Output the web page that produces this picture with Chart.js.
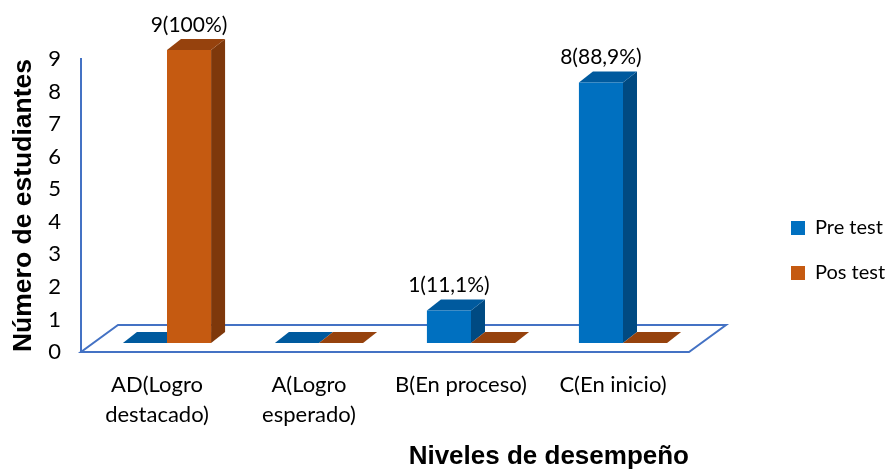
<!DOCTYPE html>
<html>
<head>
<meta charset="utf-8">
<script src="https://cdn.jsdelivr.net/npm/chart.js@4.4.0/dist/chart.umd.min.js"></script>
<style>
  html, body { margin: 0; padding: 0; background: #fff; }
  #wrap { width: 887px; height: 470px; }
</style>
</head>
<body>
<div id="wrap"><canvas id="chart"></canvas></div>
<script>
const categories = [['AD(Logro', 'destacado)'], ['A(Logro', 'esperado)'], 'B(En proceso)', 'C(En inicio)'];
const preTest = [0, 0, 1, 8];
const posTest = [9, 0, 0, 0];
const totalStudents = 9;
const yMin = 0;
const yMax = 9;
const yStep = 1;

// colours of the three visible faces of each 3D bar
const faces = {
    'Pre test': { front: '#0070C0', side: '#004A82', top: '#005A9E' },
    'Pos test': { front: '#C55A11', side: '#7E380B', top: '#96420D' }
};
const barShift   = { x: 10, y: -9 };   // bars stand a bit behind the axis plane
const barDepth   = { x: 14, y: -11 };
const floorDepth = { x: 37, y: -27 };
const fontText  = 'Lato';
const fontTitle = 'Liberation Sans';

function pctLabel(v) {
    const p = v / totalStudents * 100;
    const s = Number.isInteger(p) ? String(p) : p.toFixed(1).replace('.', ',');
    return v + '(' + s + '%)';
}

const bars3d = {
    id: 'bars3d',
    beforeDatasetsDraw(chart) {
        const { ctx, chartArea: a } = chart;
        // floor
        ctx.save();
        ctx.strokeStyle = '#4472C4';
        ctx.lineWidth = 2;
        ctx.beginPath();
        ctx.moveTo(a.left, a.bottom);
        ctx.lineTo(a.right, a.bottom);
        ctx.lineTo(a.right + floorDepth.x, a.bottom + floorDepth.y);
        ctx.lineTo(a.left + floorDepth.x, a.bottom + floorDepth.y);
        ctx.closePath();
        ctx.stroke();
        ctx.restore();

        ctx.save();
        ctx.translate(barShift.x, barShift.y);
        chart.data.datasets.forEach((ds, i) => {
            const c = faces[ds.label];
            chart.getDatasetMeta(i).data.forEach(bar => {
                const { x, y, base, width } = bar.getProps(['x', 'y', 'base', 'width'], true);
                const x0 = x - width / 2, x1 = x + width / 2;
                // side
                ctx.fillStyle = c.side;
                ctx.beginPath();
                ctx.moveTo(x1, y);
                ctx.lineTo(x1 + barDepth.x, y + barDepth.y);
                ctx.lineTo(x1 + barDepth.x, base + barDepth.y);
                ctx.lineTo(x1, base);
                ctx.closePath();
                ctx.fill();
                // top
                ctx.fillStyle = c.top;
                ctx.beginPath();
                ctx.moveTo(x0, y);
                ctx.lineTo(x1, y);
                ctx.lineTo(x1 + barDepth.x, y + barDepth.y);
                ctx.lineTo(x0 + barDepth.x, y + barDepth.y);
                ctx.closePath();
                ctx.fill();
            });
        });
    },
    afterDatasetsDraw(chart) {
        const { ctx } = chart;
        ctx.fillStyle = '#000';
        ctx.font = '21px "' + fontText + '"';
        ctx.textAlign = 'center';
        ctx.textBaseline = 'middle';
        chart.data.datasets.forEach((ds, i) => {
            chart.getDatasetMeta(i).data.forEach((bar, j) => {
                const v = ds.data[j];
                if (!v) return;
                ctx.fillText(pctLabel(v), bar.x, bar.y + barDepth.y - 14);
            });
        });
        ctx.restore();
    }
};

new Chart(document.getElementById('chart'), {
    type: 'bar',
    data: {
        labels: categories,
        datasets: [
            { label: 'Pre test', data: preTest, backgroundColor: faces['Pre test'].front, borderWidth: 0, clip: false },
            { label: 'Pos test', data: posTest, backgroundColor: faces['Pos test'].front, borderWidth: 0, clip: false }
        ]
    },
    options: {
        responsive: true,
        maintainAspectRatio: false,
        animation: false,
        categoryPercentage: 0.58,
        barPercentage: 1.0,
        layout: { padding: { top: 31, left: 0, right: 0, bottom: 0 } },
        plugins: {
            legend: {
                position: 'right',
                maxWidth: 121,
                labels: {
                    boxWidth: 14,
                    boxHeight: 14,
                    padding: 25,
                    color: '#000',
                    font: { family: fontText, size: 20 }
                }
            },
            tooltip: { enabled: false }
        },
        scales: {
            x: {
                grid: { display: false, drawTicks: false },
                border: { display: false },
                ticks: {
                    color: '#000',
                    font: { family: fontText, size: 22, lineHeight: 1.36 },
                    padding: 18,
                    maxRotation: 0,
                    autoSkip: false
                },
                title: {
                    display: true,
                    text: 'Niveles de desempeño',
                    align: 'end',
                    color: '#000',
                    font: { family: fontTitle, size: 26, weight: 'bold', lineHeight: 1.0 },
                    padding: 0
                },
                afterFit: s => { s.height = 118; }
            },
            xTop: {
                position: 'top',
                grid: { display: false, drawTicks: false },
                border: { display: false },
                ticks: { display: false },
                afterFit: s => { s.height = 28; }
            },
            y: {
                min: yMin,
                max: yMax,
                grid: { display: false, drawTicks: false },
                border: { display: true, color: '#4472C4', width: 2 },
                ticks: {
                    stepSize: yStep,
                    color: '#000',
                    font: { family: fontText, size: 22 },
                    padding: 20
                },
                title: {
                    display: true,
                    text: 'Número de estudiantes',
                    color: '#000',
                    font: { family: fontTitle, size: 26.5, weight: 'bold' },
                    padding: { top: 8, bottom: 0 }
                },
                afterFit: s => { s.width = 81; }
            },
            yRight: {
                position: 'right',
                grid: { display: false, drawTicks: false },
                border: { display: false },
                ticks: { display: false },
                afterFit: s => { s.width = 77; }
            }
        }
    },
    plugins: [bars3d]
});
</script>
</body>
</html>
